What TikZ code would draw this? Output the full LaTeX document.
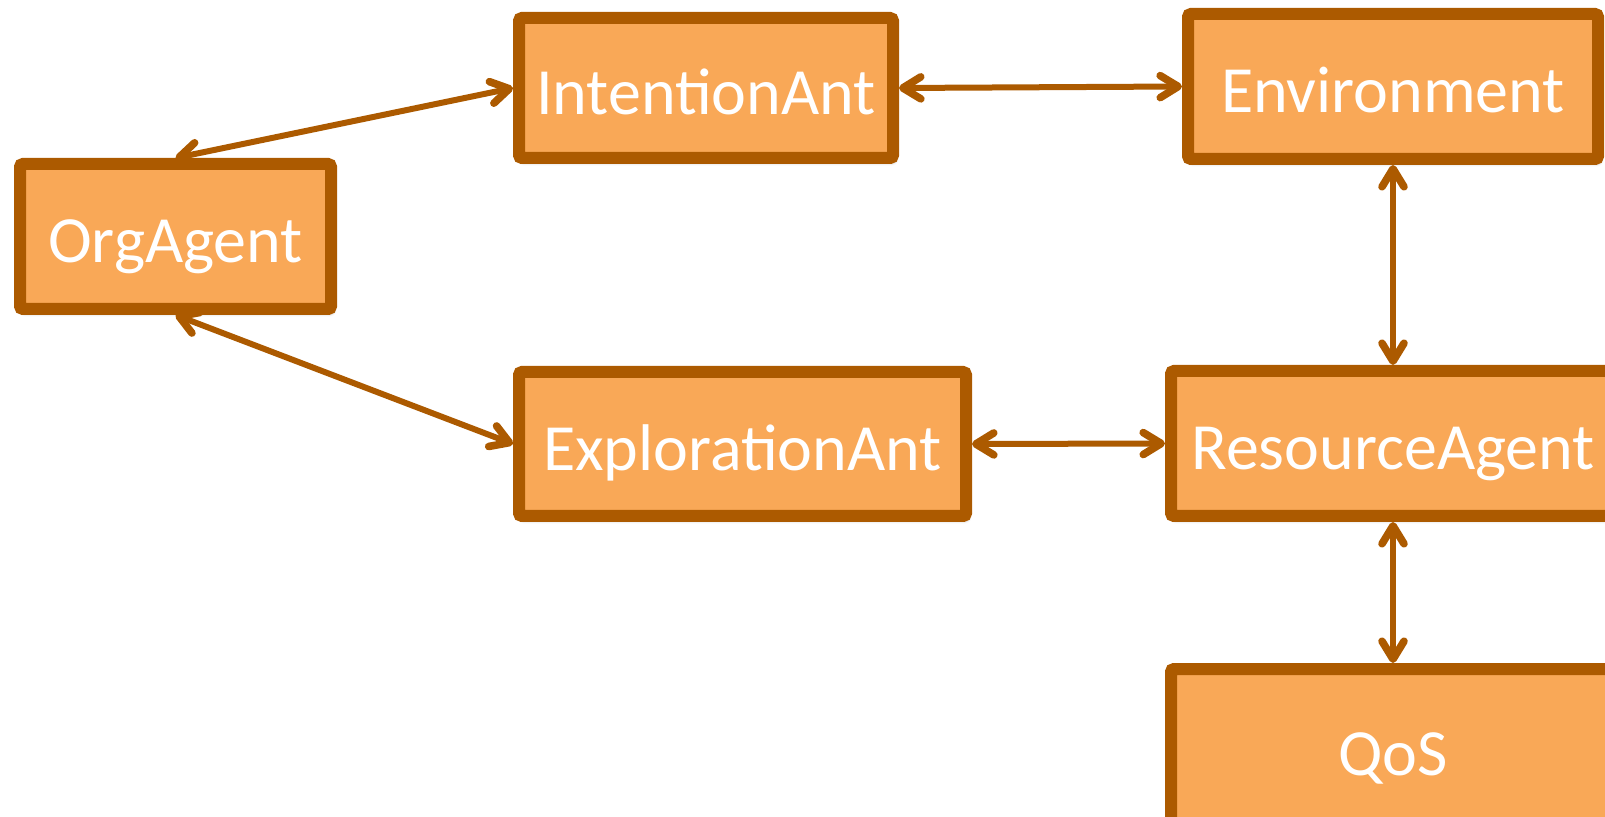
\documentclass[tikz,border=0pt]{standalone}
\usepackage{fontspec}
\setmainfont{Carlito}
\usetikzlibrary{arrows.meta,shadows.blur}
\definecolor{boxfill}{RGB}{249,168,87}
\definecolor{boxline}{RGB}{172,90,0}
\tikzset{
  agentbox/.style={draw=boxline, fill=boxfill, line width=6pt, rounded corners=1.5pt,
    inner sep=0pt, text=white, font=\fontsize{33}{33}\selectfont,
    text height=26.5pt, text depth=0pt,
    blur shadow={shadow xshift=1pt, shadow yshift=-2pt, shadow blur steps=6, shadow opacity=35}},
  link/.style={draw=boxline, line width=3pt, line cap=round, line join=round, <->,
    >={Straight Barb[length=9pt,width=11pt,round,line width=3.8pt]}}
}
\begin{document}
\begin{tikzpicture}[x=0.5pt,y=-0.5pt]
  \useasboundingbox (0,0) rectangle (1605,817);
  % agents and components, coordinates in pixel units with y pointing down
  \node[agentbox, minimum width=155.5pt, minimum height=72.5pt] (org) at (175.5,236.5) {OrgAgent};
  \node[agentbox, minimum width=187pt, minimum height=70pt] (intent) at (706,88) {IntentionAnt};
  \node[agentbox, minimum width=205pt, minimum height=72.5pt] (env) at (1393,86.5) {Environment};
  \node[agentbox, minimum width=223.5pt, minimum height=72pt] (explore) at (742.5,444) {ExplorationAnt};
  \node[agentbox, minimum width=222pt, minimum height=72.5pt] (res) at (1393,443.5) {ResourceAgent};
  \node[agentbox, minimum width=222pt, minimum height=80pt] (qos) at (1393,749) {QoS};
  % bidirectional links
  \draw[link] (org.north) -- (intent.west);
  \draw[link] (intent.east) -- (env.west);
  \draw[link] (env.south) -- (res.north);
  \draw[link] (org.south) -- (explore.west);
  \draw[link] (explore.east) -- (res.west);
  \draw[link] (res.south) -- (qos.north);
\end{tikzpicture}
\end{document}
